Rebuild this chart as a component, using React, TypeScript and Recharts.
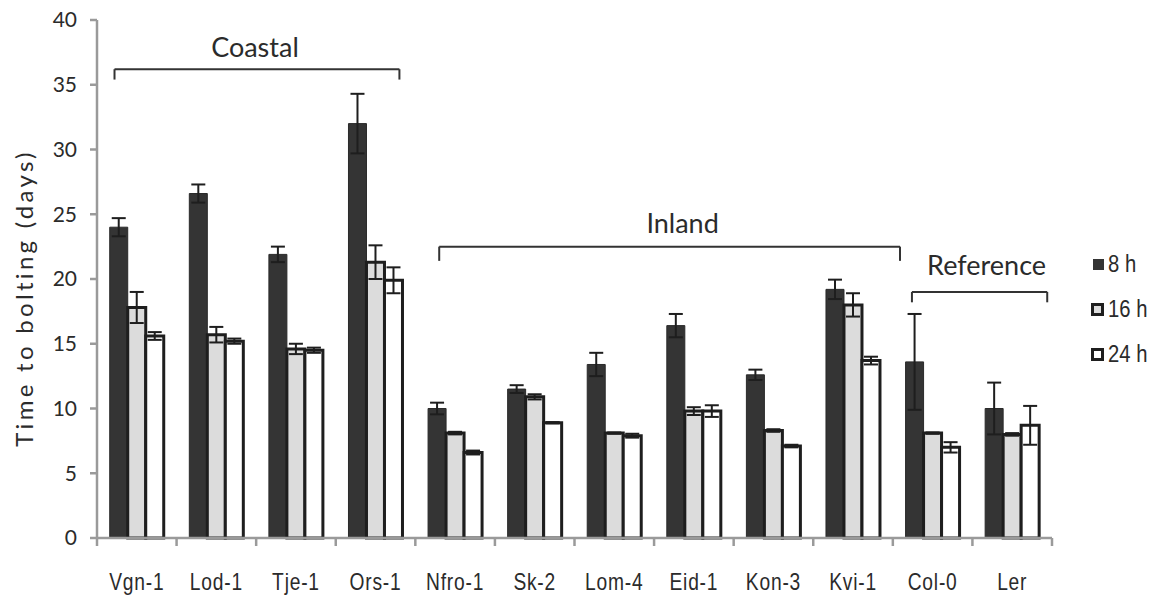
import React from "react";
import {
  BarChart,
  Bar,
  XAxis,
  YAxis,
  ErrorBar,
  ReferenceLine,
  Legend,
} from "recharts";

// Accessions and mean time to bolting (days) under three photoperiods
const CATEGORIES = [
  "Vgn-1", "Lod-1", "Tje-1", "Ors-1", "Nfro-1", "Sk-2",
  "Lom-4", "Eid-1", "Kon-3", "Kvi-1", "Col-0", "Ler",
];
const H8 = [24.0, 26.6, 21.9, 32.0, 10.0, 11.5, 13.4, 16.4, 12.6, 19.2, 13.6, 10.0];
const H8_ERR = [0.7, 0.7, 0.6, 2.3, 0.45, 0.3, 0.9, 0.9, 0.4, 0.75, 3.7, 2.0];
const H16 = [17.8, 15.7, 14.6, 21.3, 8.1, 10.9, 8.1, 9.8, 8.3, 18.0, 8.1, 8.0];
const H16_ERR = [1.2, 0.6, 0.4, 1.3, 0.1, 0.2, 0.05, 0.3, 0.1, 0.9, 0.05, 0.1];
const H24 = [15.6, 15.2, 14.5, 19.9, 6.6, 8.9, 7.9, 9.8, 7.1, 13.7, 7.0, 8.7];
const H24_ERR = [0.3, 0.2, 0.2, 1.0, 0.15, 0.05, 0.15, 0.45, 0.1, 0.3, 0.4, 1.5];

const Y_TICKS = [0, 5, 10, 15, 20, 25, 30, 35, 40];
// Category boundaries on the index axis (category i occupies [i, i + 1])
const BOUNDARY_TICKS = [0, 1, 2, 3, 4, 5, 6, 7, 8, 9, 10, 11, 12];

// Origin groups: label, span along the category index, bracket height (days)
const GROUP_LABELS = ["Coastal", "Inland", "Reference"];
const GROUP_SPANS: [number, number][] = [[0.22, 3.8], [4.3, 10.09], [10.24, 11.94]];
const GROUP_LEVELS = [36.2, 22.5, 19.0];
const GROUP_DROPS = [0.8, 1.1, 0.8];

const SERIES_NAMES = ["8 h", "16 h", "24 h"];

const data = CATEGORIES.map((name, i) => ({
  name,
  pos: i + 0.5,
  h8: H8[i],
  e8: H8_ERR[i],
  h16: H16[i],
  e16: H16_ERR[i],
  h24: H24[i],
  e24: H24_ERR[i],
}));

const CHART_W = 1150;
const CHART_H = 590;
const MARGIN = { top: 12, right: 106, bottom: 0, left: 0 };
const Y_AXIS_W = 89;
const BAND_PX = (CHART_W - MARGIN.right - MARGIN.left - Y_AXIS_W) / CATEGORIES.length;

const TEXT = "#2b2b2b";
const AXIS = "#9a9a9a";
const EDGE = "#1e1e1e";
const SANS = "Lato, 'Open Sans', sans-serif";
const ARIAL = "'Liberation Sans', Arial, sans-serif";

const barStyles = [
  { fill: "#343434", stroke: "#2a2a2a", strokeWidth: 1 },
  { fill: "#dcdcdc", stroke: EDGE, strokeWidth: 3 },
  { fill: "#ffffff", stroke: EDGE, strokeWidth: 3 },
];

const groupLabelStyle = [
  { dx: -2, lift: 12 },
  { dx: 13, lift: 14 },
  { dx: 7, lift: 17 },
];

// Boundary tick mark plus the category name centred in the band to its right
function IndexTick(props: any) {
  const { x, y, payload } = props;
  const k = Math.round(payload.value);
  const name = CATEGORIES[k];
  const cx = x + BAND_PX / 2;
  const ty = y + 52;
  return (
    <g>
      <line x1={x} y1={y} x2={x} y2={y + 8} stroke={AXIS} strokeWidth={2.5} />
      {name ? (
        <text
          x={0}
          y={0}
          transform={`translate(${cx} ${ty}) scale(0.8 1)`}
          textAnchor="middle"
          fontFamily={ARIAL}
          fontSize={24}
          letterSpacing={1}
          fill={TEXT}
        >
          {name}
        </text>
      ) : null}
    </g>
  );
}

function GroupLabel(props: any) {
  const { viewBox, value, dx, lift } = props;
  if (!viewBox) return null;
  const x = viewBox.x + viewBox.width / 2 + dx;
  const y = viewBox.y - lift;
  return (
    <text x={x} y={y} textAnchor="middle" fontFamily={SANS} fontSize={27} fill={TEXT}>
      {value}
    </text>
  );
}

function YTitle(props: any) {
  const { viewBox } = props;
  if (!viewBox) return null;
  const cx = viewBox.x + 15;
  const cy = viewBox.y + viewBox.height / 2 + 19;
  return (
    <text
      x={cx}
      y={cy}
      transform={`rotate(-90 ${cx} ${cy})`}
      textAnchor="middle"
      dominantBaseline="central"
      fontFamily={SANS}
      fontSize={24}
      letterSpacing={3.3}
      fill={TEXT}
    >
      Time to bolting (days)
    </text>
  );
}

function LegendBox() {
  return (
    <div style={{ display: "flex", flexDirection: "column" }}>
      {SERIES_NAMES.map((label, i) => {
        const s = barStyles[i];
        const size = i === 0 ? 11 : 13;
        return (
          <div key={label} style={{ display: "flex", alignItems: "center", height: 45 }}>
            <div style={{ width: 13, display: "flex", justifyContent: "flex-end" }}>
              <div
                style={{
                  width: size,
                  height: size,
                  boxSizing: "border-box",
                  background: s.fill,
                  border: i === 0 ? "none" : `3px solid ${EDGE}`,
                }}
              />
            </div>
            <span
              style={{
                marginLeft: 4,
                fontFamily: ARIAL,
                fontSize: 23,
                color: TEXT,
                whiteSpace: "nowrap",
                display: "inline-block",
                transform: "scaleX(0.88)",
                transformOrigin: "left center",
              }}
            >
              {label}
            </span>
          </div>
        );
      })}
    </div>
  );
}

export default function App() {
  return (
    <BarChart
      width={CHART_W}
      height={CHART_H}
      data={data}
      margin={MARGIN}
      barGap={0}
      barCategoryGap="16%"
    >
      <XAxis
        dataKey="pos"
        type="number"
        domain={[0, 12]}
        ticks={BOUNDARY_TICKS}
        allowDataOverflow
        interval={0}
        height={60}
        tickSize={0}
        tickMargin={0}
        tickLine={false}
        axisLine={{ stroke: AXIS, strokeWidth: 2.5 }}
        tick={<IndexTick />}
      />
      <YAxis
        width={Y_AXIS_W}
        domain={[0, 40]}
        ticks={Y_TICKS}
        interval={0}
        tickSize={7}
        tickMargin={13}
        axisLine={{ stroke: AXIS, strokeWidth: 2.5 }}
        tickLine={{ stroke: AXIS, strokeWidth: 2.5 }}
        tick={{ fontFamily: SANS, fontSize: 21, fill: TEXT }}
        label={{ content: <YTitle /> } as any}
      />

      <Bar dataKey="h8" name={SERIES_NAMES[0]} {...barStyles[0]} isAnimationActive={false}>
        <ErrorBar dataKey="e8" width={7} stroke={EDGE} strokeWidth={2} direction="y" />
      </Bar>
      <Bar dataKey="h16" name={SERIES_NAMES[1]} {...barStyles[1]} isAnimationActive={false}>
        <ErrorBar dataKey="e16" width={7} stroke={EDGE} strokeWidth={2} direction="y" />
      </Bar>
      <Bar dataKey="h24" name={SERIES_NAMES[2]} {...barStyles[2]} isAnimationActive={false}>
        <ErrorBar dataKey="e24" width={7} stroke={EDGE} strokeWidth={2} direction="y" />
      </Bar>

      {GROUP_LABELS.map((label, i) => {
        const [from, to] = GROUP_SPANS[i];
        const level = GROUP_LEVELS[i];
        const low = level - GROUP_DROPS[i];
        const line = { stroke: "#333", strokeWidth: 2 };
        return (
          <React.Fragment key={label}>
            <ReferenceLine
              ifOverflow="visible"
              segment={[{ x: from, y: level }, { x: to, y: level }]}
              {...line}
              label={
                <GroupLabel
                  value={label}
                  dx={groupLabelStyle[i].dx}
                  lift={groupLabelStyle[i].lift}
                />
              }
            />
            <ReferenceLine
              ifOverflow="visible"
              segment={[{ x: from, y: level }, { x: from, y: low }]}
              {...line}
            />
            <ReferenceLine
              ifOverflow="visible"
              segment={[{ x: to, y: level }, { x: to, y: low }]}
              {...line}
            />
          </React.Fragment>
        );
      })}

      <Legend
        layout="horizontal"
        verticalAlign="middle"
        align="center"
        content={<LegendBox />}
        wrapperStyle={{ position: "absolute", left: 1083, top: 234, width: 70 }}
      />
    </BarChart>
  );
}
